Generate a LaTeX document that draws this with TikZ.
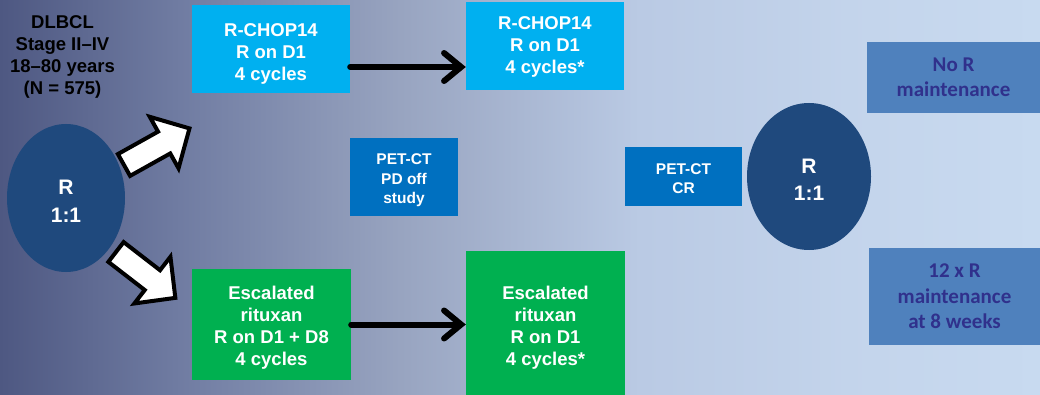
\documentclass[tikz,border=0pt]{standalone}
\usepackage{fontspec}
\setmainfont{Liberation Sans}
\newfontfamily\calib{Carlito}
\usetikzlibrary{arrows.meta,shapes.geometric}
\definecolor{cyanbox}{HTML}{00B0F0}
\definecolor{petbox}{HTML}{0070C0}
\definecolor{greenbox}{HTML}{00B050}
\definecolor{ellblue}{HTML}{1F497D}
\definecolor{mainbox}{HTML}{4F81BD}
\definecolor{maintext}{HTML}{30318C}
\newcommand\topst[1]{\rule{0pt}{#1}}
\pgfdeclarehorizontalshading{bgshade}{100bp}{rgb(0bp)=(0.306,0.345,0.510); rgb(25bp)=(0.306,0.345,0.510); rgb(33.65bp)=(0.439,0.486,0.635); rgb(44.25bp)=(0.596,0.643,0.753); rgb(55.75bp)=(0.729,0.792,0.894); rgb(66.85bp)=(0.769,0.835,0.925); rgb(75bp)=(0.784,0.855,0.941); rgb(100bp)=(0.784,0.855,0.941)}
\begin{document}
\begin{tikzpicture}[x=1pt,y=-1pt,
  txt/.style={inner sep=0pt, align=center, font={\fontsize{18.5}{22}\selectfont\bfseries}},
  box/.style={txt, rectangle, text=white},
  petstyle/.style={rectangle, inner sep=0pt, align=center, text=white, fill=petbox, font={\fontsize{15.5}{19.5}\selectfont\bfseries}},
  rnode/.style={ellipse, inner sep=0pt, fill=ellblue, text=white, align=center, font={\fontsize{21}{28}\selectfont\bfseries}},
  mbox/.style={rectangle, inner sep=0pt, align=center, fill=mainbox, text=maintext, font={\calib\fontsize{21}{25.5}\selectfont\bfseries}},
  flow/.style={line width=6pt, line cap=round, -{Straight Barb[length=17pt,width=28pt,line cap=round]}},
  blockarrow/.style={draw=black, fill=white, line width=4pt, line join=miter}
]
\useasboundingbox (0,0) rectangle (1040,395);
\shade[shading=bgshade] (0,0) rectangle (1040,395);

% boxes
\node[box, fill=cyanbox, minimum width=158pt, minimum height=88pt] (rc1) at (271,49) {\topst{23.5pt}R-CHOP14\\R on D1\\4 cycles};
\node[box, fill=cyanbox, minimum width=158pt, minimum height=88pt] (rc2) at (545,46) {\topst{15.5pt}R-CHOP14\\R on D1\\4 cycles*};
\node[box, fill=greenbox, minimum width=159pt, minimum height=111pt] (esc1) at (271.5,324.5) {\topst{19.5pt}Escalated\\rituxan\\R on D1 + D8\\4 cycles};
\node[box, fill=greenbox, minimum width=159pt, minimum height=148pt] (esc2) at (545.5,325) {\topst{19.5pt}Escalated\\rituxan\\R on D1\\4 cycles*};
\node[petstyle, minimum width=108pt, minimum height=78pt] (pd) at (404,177) {\topst{18pt}PET-CT\\PD off\\study};
\node[petstyle, minimum width=117pt, minimum height=59pt] (cr) at (683.5,176.5) {\topst{15pt}PET-CT\\CR};
\node[mbox, minimum width=173pt, minimum height=71pt] (nor) at (953.5,77.5) {No R\\maintenance};
\node[mbox, minimum width=171pt, minimum height=97pt] (mr) at (954.5,296.5) {12 x R\\maintenance\\at 8 weeks};

% ellipses
\node[rnode, minimum width=118pt, minimum height=148pt] (e1) at (66,198) {\topst{21pt}R\\1:1};
\node[rnode, minimum width=124pt, minimum height=147pt] (e2) at (809,176.5) {\topst{21pt}R\\1:1};

% info text
\node[txt, text=black] (info) at (62.5,57) {DLBCL\\Stage II–IV\\18–80 years\\(N = 575)};

% black arrows
\draw[flow] ([yshift=-18pt]rc1.east) -- ([yshift=-18pt]rc1.east -| rc2.west);
\draw[flow] (esc1.east) -- (esc1.east -| esc2.west);

% block arrows
\coordinate (ut) at (124,165);
\coordinate (lt) at (116,252);
\draw[blockarrow, shift={(ut)}, rotate=29.2] (0,-12.5) -- (46,-12.5) -- (46,-29.5) -- (75,0) -- (46,29.5) -- (46,12.5) -- (0,12.5) -- cycle;
\draw[blockarrow, shift={(lt)}, rotate=-37.7] (0,-12.5) -- (46,-12.5) -- (46,-29.5) -- (75,0) -- (46,29.5) -- (46,12.5) -- (0,12.5) -- cycle;
\end{tikzpicture}
\end{document}
